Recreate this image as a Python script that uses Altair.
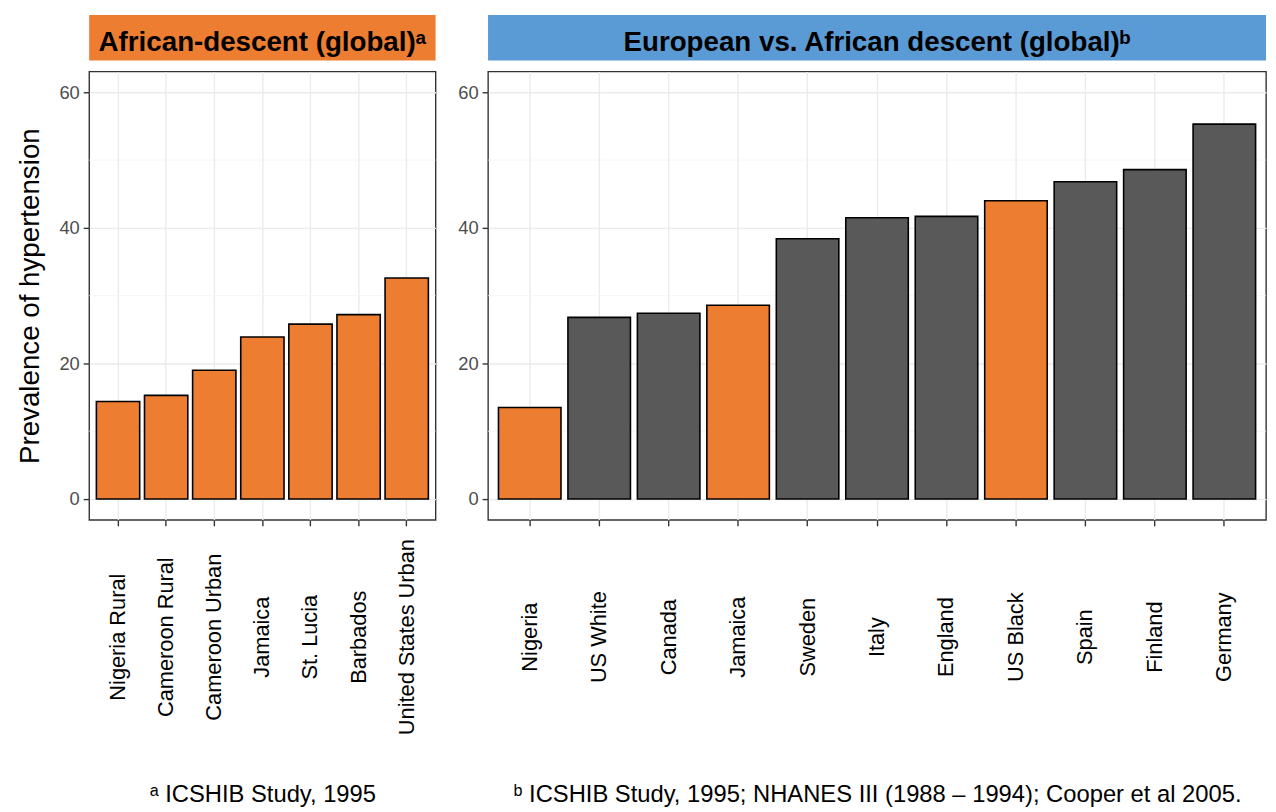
import altair as alt
import pandas as pd

FONT = "Liberation Sans"
ORANGE = "#ED7D31"
BLUE = "#5B9BD5"
GREY = "#595959"

# ---- data ----
left_cats = ["Nigeria Rural", "Cameroon Rural", "Cameroon Urban", "Jamaica",
             "St. Lucia", "Barbados", "United States Urban"]
left_vals = [14.4, 15.3, 19.0, 23.9, 25.8, 27.2, 32.6]
left_groups = ["African"] * 7

right_cats = ["Nigeria", "US White", "Canada", "Jamaica", "Sweden", "Italy",
              "England", "US Black", "Spain", "Finland", "Germany"]
right_vals = [13.5, 26.8, 27.4, 28.6, 38.4, 41.5, 41.7, 44.0, 46.8, 48.6, 55.3]
right_groups = ["African", "European", "European", "African", "European", "European",
                "European", "African", "European", "European", "European"]

y_ticks = [0, 20, 40, 60]
minor_grid = [10, 30, 50]

left_title = "African-descent (global)\u1d43"
right_title = "European vs. African descent (global)\u1d47"
left_note = "\u1d43 ICSHIB Study, 1995"
right_note = "\u1d47 ICSHIB Study, 1995; NHANES III (1988 \u2013 1994); Cooper et al 2005."
y_title = "Prevalence of hypertension"

Y_DOMAIN = [-3.07, 63.07]
H = 453


def panel(cats, vals, groups, width, strip_title, strip_color, footnote, ytitle):
    df = pd.DataFrame({"cat": cats, "val": vals, "grp": groups})
    yscale = alt.Scale(domain=Y_DOMAIN, nice=False, zero=False)

    yaxis_kwargs = dict(values=y_ticks, grid=True, labelFontSize=18.5, labelColor="#4D4D4D",
                        labelPadding=4, titleFontSize=28, titleColor="black",
                        titleFontWeight="normal", titlePadding=15)
    if ytitle:
        yaxis = alt.Axis(title=ytitle, **yaxis_kwargs)
    else:
        yaxis = alt.Axis(title=None, **yaxis_kwargs)

    xaxis = alt.Axis(title=footnote, labelAngle=-90, labelAlign="center",
                     labelBaseline="middle", labelPadding=112, labelFontSize=22,
                     labelLimit=400, labelColor="black", grid=True, bandPosition=0.5,
                     titleFontSize=24, titleFontWeight="normal", titleColor="black",
                     titleY=285, titleBaseline="alphabetic")

    bars = alt.Chart(df).mark_bar(stroke="black", strokeWidth=1.6).encode(
        x=alt.X("cat:N", sort=cats,
                scale=alt.Scale(paddingInner=0.1, paddingOuter=0.15), axis=xaxis),
        y=alt.Y("val:Q", scale=yscale, axis=yaxis),
        color=alt.Color("grp:N",
                        scale=alt.Scale(domain=["African", "European"], range=[ORANGE, GREY]),
                        legend=None),
    )

    rules = alt.Chart(pd.DataFrame({"val": minor_grid})).mark_rule(
        color="#F2F2F2", strokeWidth=0.8
    ).encode(
        y=alt.Y("val:Q", scale=yscale, axis=yaxis),
        x=alt.value(0), x2=alt.value(width),
    )

    sdf = pd.DataFrame({"t": [strip_title]})
    strip = alt.Chart(sdf).mark_rect(color=strip_color).encode(
        x=alt.value(0), x2=alt.value(width), y=alt.value(-57), y2=alt.value(-11)
    )
    stext = alt.Chart(sdf).mark_text(
        font=FONT, fontSize=28, fontWeight="bold", color="black",
        align="center", baseline="alphabetic"
    ).encode(x=alt.value(width / 2), y=alt.value(-21), text="t:N")

    return alt.layer(rules, bars, strip, stext).properties(width=width, height=H)


left = panel(left_cats, left_vals, left_groups, 350, left_title, ORANGE, left_note, y_title)
right = panel(right_cats, right_vals, right_groups, 786, right_title, BLUE, right_note, None)

chart = alt.hconcat(left, right, spacing=19).properties(
    padding={"left": 7, "top": 2, "right": 0, "bottom": 0}
).configure_view(
    stroke="#333333", strokeWidth=1.4
).configure_axis(
    gridColor="#EBEBEB", gridWidth=1.4, tickColor="#333333", tickWidth=1.4,
    tickSize=6, domain=False, labelFont=FONT, titleFont=FONT
)

chart.save("out.html", embed_options={"renderer": "svg", "actions": False})
